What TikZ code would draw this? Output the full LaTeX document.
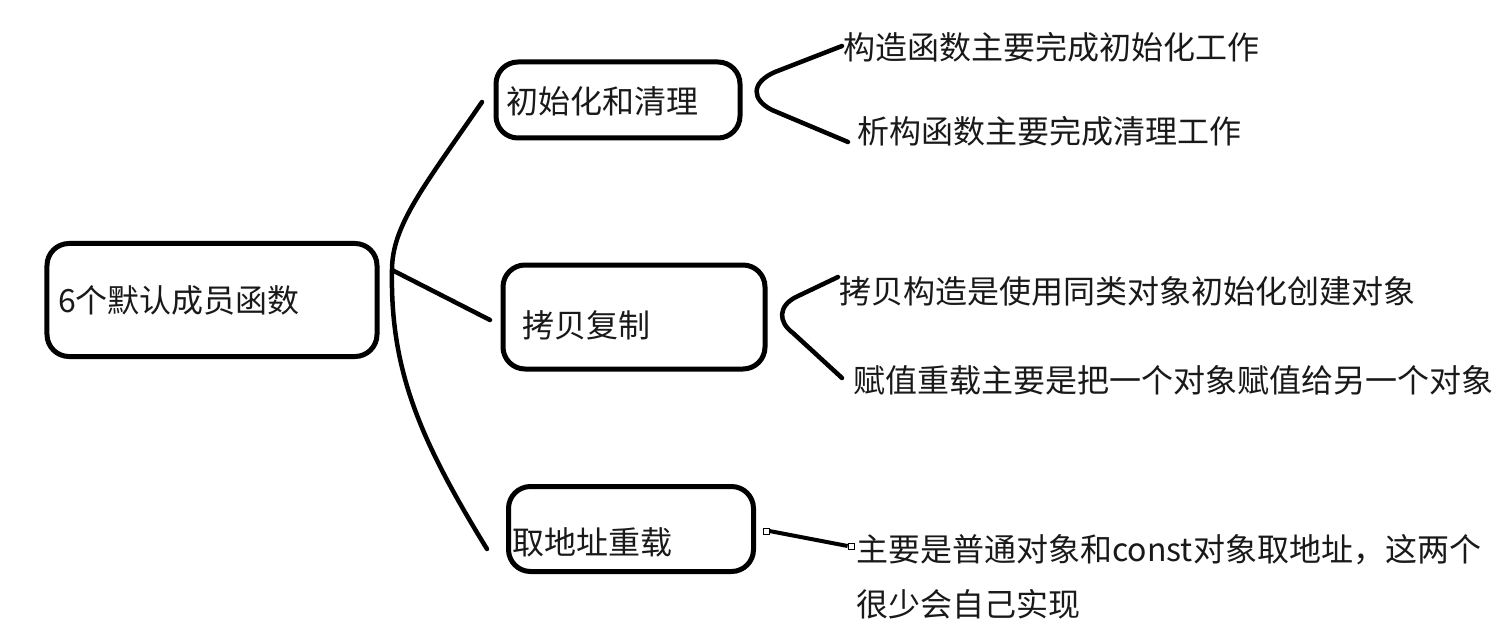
\documentclass[tikz,border=0pt]{standalone}
\usepackage{fontspec}
\setmainfont{Noto Sans CJK SC}
\begin{document}
\begin{tikzpicture}[x=1bp,y=-1bp,
  box/.style={draw, line width=5bp, rounded corners=22bp, inner sep=0pt},
  txt/.style={anchor=west, inner sep=0pt, font=\fontsize{32bp}{40bp}\selectfont, text=black!90},
  conn/.style={line width=4.5bp, line cap=round, line join=round},
  handle/.style={draw, fill=white, line width=0.8bp, minimum size=6bp, inner sep=0pt}]
\useasboundingbox (0,0) rectangle (1504,643);
% boxes
\node[box, minimum width=330bp, minimum height=113bp] (root) at (212,300) {};
\node[box, minimum width=244bp, minimum height=76bp] (init) at (618,100) {};
\node[box, minimum width=262bp, minimum height=104bp] (copy) at (634,317) {};
\node[box, minimum width=245bp, minimum height=85bp] (addr) at (631,529) {};
% box texts
\node[txt] (roott) at (58,300) {6个默认成员函数};
\node[txt] (initt) at (506,101) {初始化和清理};
\node[txt] (copyt) at (522,325) {拷贝复制};
\node[txt] (addrt) at (512,542) {取地址重载};
% leaf texts
\node[txt] (l1) at (843,47) {构造函数主要完成初始化工作};
\node[txt] (l2) at (857,131) {析构函数主要完成清理工作};
\node[txt] (l3) at (839,291) {拷贝构造是使用同类对象初始化创建对象};
\node[txt] (l4) at (853,380) {赋值重载主要是把一个对象赋值给另一个对象};
\node[txt] (l5) at (856,550) {主要是普通对象和const对象取地址，这两个};
\node[txt] (l6) at (856,604) {很少会自己实现};
% main brace
\coordinate (bt) at (482,102);
\coordinate (bm) at (392,270);
\coordinate (bb) at (487,549);
\coordinate (bc) at (490,320);
\draw[conn] (bt) .. controls (425,185) and (392,225) .. (bm)
  .. controls (390,370) and (420,440) .. (bb);
\draw[conn] (bm) -- (bc);
% top bracket
\coordinate (t1) at (842,46);
\coordinate (t2) at (848,142);
\draw[conn] (t1) -- (775,72) .. controls (750,83) and (752,100) .. (772,110) -- (t2);
% middle bracket
\coordinate (m1) at (838,277);
\coordinate (m2) at (842,378);
\draw[conn] (m1) -- (796,297) .. controls (778,306) and (778,322) .. (793,333) -- (m2);
% bottom connector
\node[handle] (h1) at (766,531) {};
\node[handle] (h2) at (851,546) {};
\draw[line width=4bp] (h1.east) -- (h2.west);
\end{tikzpicture}
\end{document}
